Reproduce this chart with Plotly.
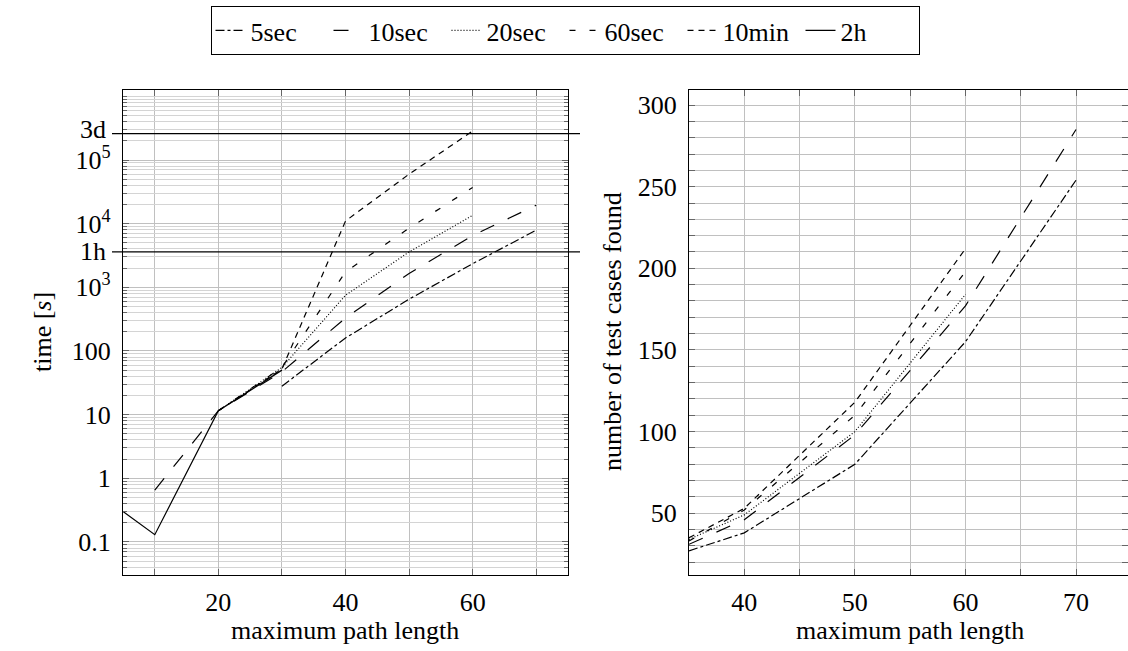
import math
import plotly.graph_objects as go

# ---------------- data ----------------
series_names = ["5sec", "10sec", "20sec", "60sec", "10min", "2h"]

# left chart: run time [s] vs maximum path length
path_len_left = [5, 10, 20, 30, 40, 50, 60, 70]
time_5sec = [None, None, None, 28, 160, 650, 2350, 7900]
time_10sec = [None, 0.65, 11.5, 47, 330, 1650, 6500, 19500]
time_20sec = [None, None, 11.5, 55, 750, 3600, 13500, None]
time_60sec = [None, None, 11.5, 55, 1750, 8500, 37000, None]
time_10min = [None, None, 11.5, 52, 11000, 60000, 285000, None]
time_2h = [0.3, 0.13, 11.5, 50, None, None, None, None]

# reference levels on the time axis
ref_levels = [259200, 3600]          # 3 days, 1 hour
ref_labels = ["3d", "1h"]

# right chart: number of test cases found
path_len_right = [35, 40, 50, 60, 70]
found_5sec = [27, 38, 80, 155, 254]
found_10sec = [31, 46, 98, 177, 285]
found_20sec = [34, 49, 100, 184, None]
found_60sec = [33, 52, 110, 198, None]
found_10min = [35, 53, 118, 212, None]
found_2h = [None, None, None, None, None]

left_tickvals = [0.1, 1, 10, 100, 1000, 10000, 100000]
left_ticktext = ["0.1", "1", "10", "100", "10<sup>3</sup>", "10<sup>4</sup>", "10<sup>5</sup>"]

time_series = [time_5sec, time_10sec, time_20sec, time_60sec, time_10min, time_2h]
found_series = [found_5sec, found_10sec, found_20sec, found_60sec, found_10min, found_2h]

# ---------------- styles ----------------
dashes = ["dashdot", "longdash", "1px,2px", "6px,14px", "6px,5px", "solid"]
FONT = "Liberation Serif"
FS = 26
W, H = 1128, 651

def px(x):
    return x / W

def py(y):
    return 1 - y / H

fig = go.Figure()
for name, ys, d in zip(series_names, time_series, dashes):
    fig.add_trace(go.Scatter(x=path_len_left, y=ys, mode="lines", name=name,
                             line=dict(color="black", width=1.2, dash=d),
                             xaxis="x", yaxis="y", legendgroup=name,
                             connectgaps=False))
for name, ys, d in zip(series_names, found_series, dashes):
    fig.add_trace(go.Scatter(x=path_len_right, y=ys, mode="lines", name=name,
                             line=dict(color="black", width=1.2, dash=d),
                             xaxis="x2", yaxis="y2", legendgroup=name,
                             showlegend=False))

label_shift = {"3d": 4, "1h": 0}
for lvl, lab in zip(ref_levels, ref_labels):
    fig.add_shape(type="line", xref="paper", yref="y", x0=px(112), x1=px(580),
                  y0=lvl, y1=lvl, line=dict(color="black", width=1.2))
    fig.add_annotation(text=lab, xref="paper", yref="y", x=px(108), y=math.log10(lvl),
                       xanchor="right", yanchor="middle", showarrow=False,
                       yshift=label_shift[lab],
                       font=dict(family=FONT, size=FS, color="black"))

grid_major = "#c0c0c0"
grid_minor = "#d4d4d4"
common_axis = dict(showline=True, linecolor="black", linewidth=1.2, mirror="allticks",
                   ticks="inside", tickcolor="#666", ticklen=6, zeroline=False,
                   tickfont=dict(family=FONT, size=FS, color="black"),
                   gridcolor=grid_major, gridwidth=1)

fig.update_layout(
    width=W, height=H, margin=dict(l=0, r=0, t=0, b=0),
    paper_bgcolor="white", plot_bgcolor="white",
    font=dict(family=FONT, size=FS, color="black"),
    showlegend=True,
    legend=dict(orientation="h", x=px(565), xanchor="center", y=py(6), yanchor="top",
                bordercolor="black", borderwidth=1, bgcolor="white",
                font=dict(family=FONT, size=FS), itemwidth=30,
                entrywidth=73, entrywidthmode="pixels",
                tracegroupgap=0),
    xaxis=dict(domain=[px(123), px(568)], range=[5, 75], anchor="y",
               tickmode="linear", tick0=0, dtick=20, ticklabelstandoff=4,
               minor=dict(dtick=10, tick0=0, showgrid=True, gridcolor=grid_major,
                          ticks="inside", ticklen=6, tickcolor="#666"),
               **common_axis),
    yaxis=dict(domain=[py(575), py(90)], type="log", range=[-1.52, 6.1], anchor="x",
               tickmode="array", tickvals=left_tickvals, ticktext=left_ticktext,
               ticklabelstandoff=6,
               minor=dict(dtick="D1", showgrid=True, gridcolor=grid_minor,
                          ticks="inside", ticklen=4, tickcolor="#666"),
               **common_axis),
    xaxis2=dict(domain=[px(689), 1.0], range=[35, 74.7], anchor="y2",
                tickmode="linear", tick0=0, dtick=10, ticklabelstandoff=4,
                minor=dict(dtick=5, tick0=0, showgrid=True, gridcolor=grid_major,
                           ticks="inside", ticklen=6, tickcolor="#666"),
                **common_axis),
    yaxis2=dict(domain=[py(575), py(90)], range=[12.2, 309.2], anchor="x2",
                tickmode="linear", tick0=0, dtick=50, ticklabelstandoff=6,
                minor=dict(dtick=10, tick0=0, showgrid=True, gridcolor=grid_major,
                           ticks="inside", ticklen=6, tickcolor="#666"),
                **common_axis),
)

# axis titles as text
titles = [
    dict(text="maximum path length", x=px(345), y=py(630), textangle=0),
    dict(text="maximum path length", x=px(910), y=py(630), textangle=0),
    dict(text="time [<i>s</i>]", x=px(42), y=py(332), textangle=-90),
    dict(text="number of test cases found", x=px(612), y=py(332), textangle=-90),
]
for t in titles:
    fig.add_annotation(text=t["text"], x=t["x"], y=t["y"], xref="paper", yref="paper",
                       showarrow=False, textangle=t["textangle"],
                       xanchor="center", yanchor="middle",
                       font=dict(family=FONT, size=FS, color="black"))

fig.write_html("out.html", config={"displayModeBar": False},
               post_script="document.body.style.margin='0';")
